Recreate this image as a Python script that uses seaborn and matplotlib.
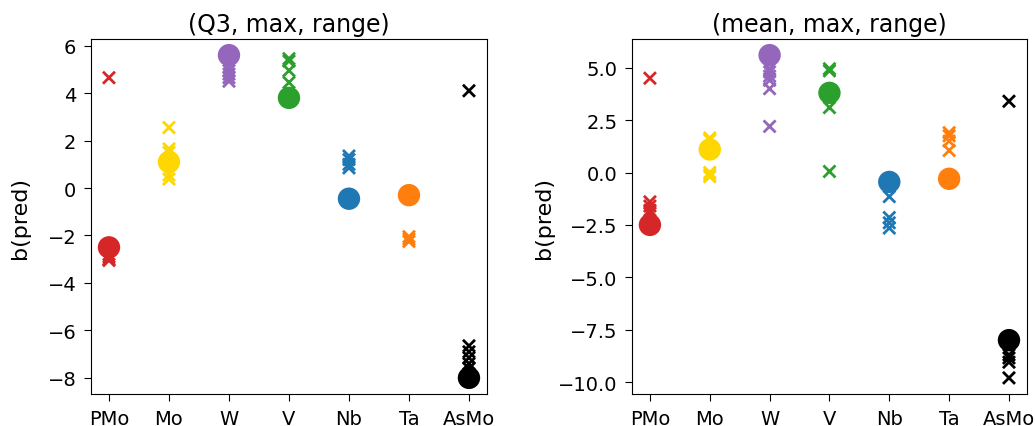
import matplotlib
matplotlib.use("Agg")
import matplotlib.pyplot as plt
from matplotlib.ticker import MultipleLocator
import pandas as pd
import seaborn as sns

groups = ["PMo", "Mo", "W", "V", "Nb", "Ta", "AsMo"]
colors = ["#d62728", "#ffd700", "#9467bd", "#2ca02c", "#1f77b4", "#ff7f0e", "black"]

# reference value per group (big circles), same in both panels
ref_values = [-2.5, 1.1, 5.6, 3.8, -0.45, -0.3, -8.0]

# predictions, (Q3, max, range)
pred_q3 = {
    "PMo": [4.65, -2.8, -2.9, -3.0, -3.05],
    "Mo": [2.55, 1.65, 1.5, 0.55, 0.38],
    "W": [5.1, 4.95, 4.8, 4.65, 4.5],
    "V": [5.45, 5.35, 4.95, 4.45],
    "Nb": [1.35, 1.2, 1.0, 0.85],
    "Ta": [-2.05, -2.15, -2.25],
    "AsMo": [4.1, -6.65, -6.9, -7.15, -7.4, -7.6],
}

# predictions, (mean, max, range)
pred_mean = {
    "PMo": [4.5, -1.4, -1.6, -1.8, -1.95],
    "Mo": [1.65, 1.55, 0.0, -0.1, -0.2],
    "W": [4.95, 4.8, 4.6, 4.4, 4.0, 2.2],
    "V": [4.95, 4.85, 3.1, 0.05],
    "Nb": [-1.15, -2.15, -2.4, -2.65],
    "Ta": [1.9, 1.75, 1.5, 1.05],
    "AsMo": [3.4, -8.7, -8.85, -9.05, -9.8],
}

titles = ["(Q3, max, range)", "(mean, max, range)"]
ytick_steps = [2, 2.5]
label_pads = [12.5, 3]

palette = dict(zip(groups, colors))
ref_df = pd.DataFrame({"group": groups, "b": ref_values})


def to_frame(preds):
    rows = []
    for g in groups:
        for v in preds[g]:
            rows.append({"group": g, "b": v})
    return pd.DataFrame(rows)


fig = plt.figure(figsize=(10.35, 4.27), dpi=100)
ax1 = fig.add_axes([0.0879, 0.0749, 0.3826, 0.8314])
ax2 = fig.add_axes([0.6106, 0.0749, 0.3816, 0.8314])

for ax, preds, title, step, lpad in zip([ax1, ax2], [pred_q3, pred_mean], titles,
                                        ytick_steps, label_pads):
    pdf = to_frame(preds)
    # predicted values as crosses, reference value as a big dot on top
    sns.scatterplot(data=pdf, x="group", y="b", hue="group", palette=palette,
                    marker="x", s=75, linewidth=2, legend=False, ax=ax)
    sns.scatterplot(data=ref_df, x="group", y="b", hue="group", palette=palette,
                    marker="o", s=260, linewidth=0, legend=False, ax=ax, zorder=3)
    ax.set_title(title, fontsize=17)
    ax.set_xlabel("")
    ax.set_ylabel("b(pred)", fontsize=16, labelpad=lpad)
    ax.tick_params(labelsize=14, length=5, pad=5.5)
    ax.yaxis.set_major_locator(MultipleLocator(step))
    ax.margins(x=0.05, y=0.05)

fig.savefig("out.png", dpi=100)
